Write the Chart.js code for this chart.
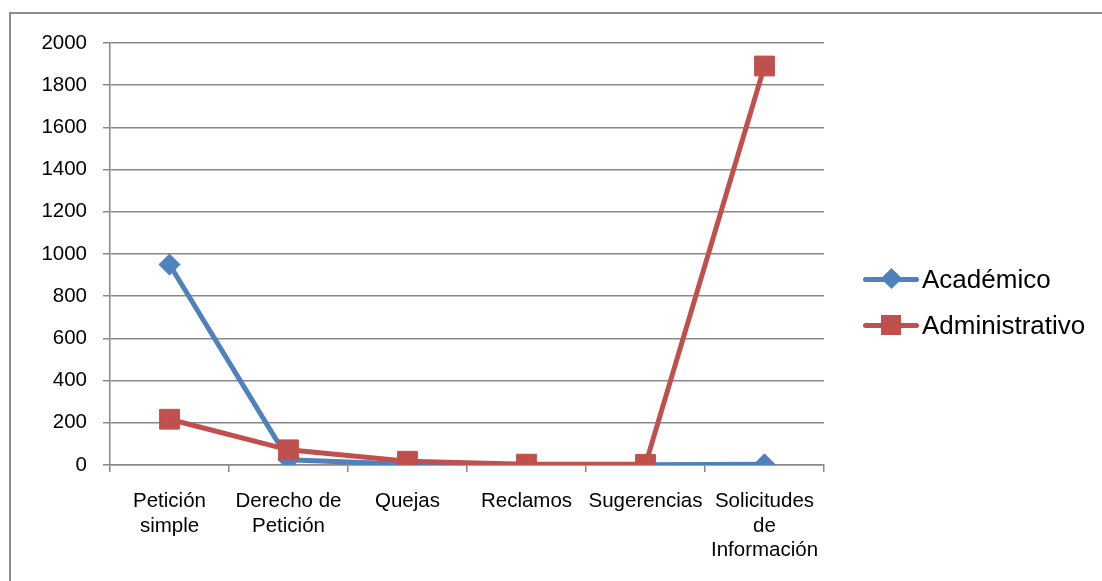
<!DOCTYPE html>
<html lang="es">
<head>
<meta charset="utf-8">
<script src="https://cdn.jsdelivr.net/npm/chart.js@4/dist/chart.umd.min.js"></script>
<style>
  body { margin: 0; background: #fff; overflow: hidden; }
  #wrap { position: absolute; left: 0; top: 0; width: 1102px; height: 581px; }
  #marco { position: absolute; left: 9px; top: 12px; width: 1300px; height: 800px;
           border: 2px solid #8c8c8c; box-sizing: border-box; }
  .leyenda { position: absolute; left: 863px; font-family: "Liberation Sans", Arial, sans-serif;
             font-size: 26px; color: #000; height: 30px; line-height: 30px; }
  .leyenda .linea { position: absolute; left: 0; top: 12.5px; width: 56px; height: 5px; border-radius: 2.5px; }
  .leyenda .marca { position: absolute; }
  .leyenda span.txt { position: absolute; left: 59px; top: 0; white-space: nowrap; }
</style>
</head>
<body>
<div id="marco"></div>
<div id="wrap"><canvas id="grafico"></canvas></div>

<div class="leyenda" style="top:264px">
  <div class="linea" style="background:#4F81BD"></div>
  <div class="marca" style="left:21px;top:7px;width:15px;height:15px;background:#4F81BD;transform:rotate(45deg)"></div>
  <span class="txt">Académico</span>
</div>
<div class="leyenda" style="top:310px">
  <div class="linea" style="background:#C0504D"></div>
  <div class="marca" style="left:18px;top:5px;width:20px;height:20px;background:#C0504D"></div>
  <span class="txt">Administrativo</span>
</div>

<script>
// categorías y series
const categorias = [
    ['Petición', 'simple'],
    ['Derecho de', 'Petición'],
    ['Quejas'],
    ['Reclamos'],
    ['Sugerencias'],
    ['Solicitudes', 'de', 'Información']
];
const academico = [950, 25, 3, 2, 1, 3];
const administrativo = [217, 72, 18, 4, 3, 1891];

const ticksY = { min: 0, max: 2000, paso: 200 };

const fuente = '"Liberation Sans", Arial, sans-serif';
const gris = '#888888';

new Chart(document.getElementById('grafico'), {
    type: 'line',
    data: {
        labels: categorias,
        datasets: [
            {
                label: 'Académico',
                data: academico,
                borderColor: '#4F81BD',
                backgroundColor: '#4F81BD',
                borderWidth: 5,
                pointStyle: 'rectRot',
                pointRadius: 10.5,
                pointBorderWidth: 1,
                tension: 0,
                order: 1
            },
            {
                label: 'Administrativo',
                data: administrativo,
                borderColor: '#C0504D',
                backgroundColor: '#C0504D',
                borderWidth: 5,
                pointStyle: 'rect',
                pointRadius: 14,
                pointBorderWidth: 1,
                tension: 0,
                order: 0
            }
        ]
    },
    options: {
        responsive: true,
        maintainAspectRatio: false,
        animation: false,
        layout: { padding: { left: 10, right: 278, top: 43, bottom: 9 } },
        plugins: {
            legend: { display: false },
            tooltip: { enabled: false }
        },
        scales: {
            x: {
                offset: true,
                afterFit: (s) => { s.height = 107; },
                grid: {
                    offset: true,
                    drawOnChartArea: false,
                    color: gris,
                    lineWidth: 1.5,
                    tickLength: 7
                },
                border: { color: gris, width: 1.5 },
                ticks: {
                    color: '#000',
                    font: { family: fuente, size: 20.5, lineHeight: 1.2 },
                    padding: 17,
                    maxRotation: 0,
                    autoSkip: false
                }
            },
            y: {
                min: ticksY.min,
                max: ticksY.max,
                afterFit: (s) => { s.width = 100; },
                grid: {
                    color: gris,
                    lineWidth: 1.5,
                    tickLength: 7
                },
                border: { color: gris, width: 1.5 },
                ticks: {
                    stepSize: ticksY.paso,
                    color: '#000',
                    font: { family: fuente, size: 20.5 },
                    padding: 16,
                    callback: (v) => String(v) // sin separador de miles
                }
            }
        }
    }
});
</script>
</body>
</html>
